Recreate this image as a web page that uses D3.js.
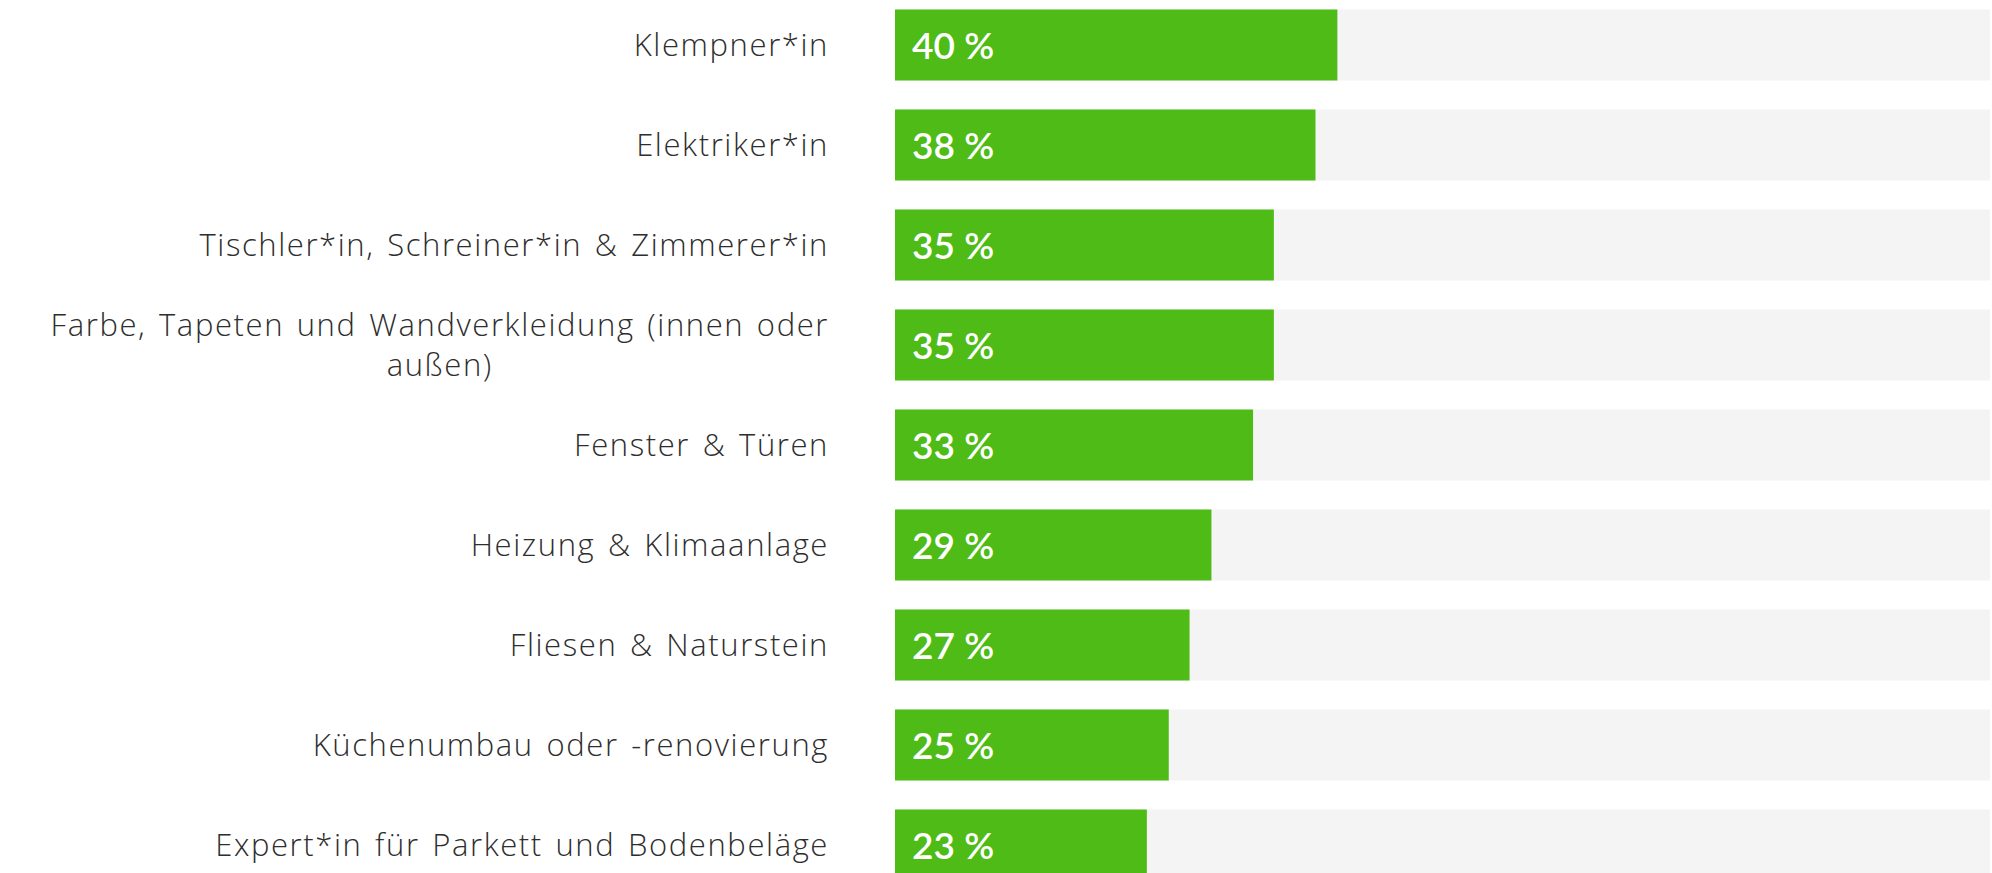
<!DOCTYPE html>
<html>
<head>
<meta charset="utf-8">
<script src="https://cdn.jsdelivr.net/npm/d3@7"></script>
<style>
  html, body { margin: 0; padding: 0; background: #ffffff; }
  svg { display: block; }
</style>
</head>
<body>
<div id="chart"></div>
<script>
// categories, top to bottom
const categories = [
  "Klempner*in",
  "Elektriker*in",
  "Tischler*in, Schreiner*in & Zimmerer*in",
  "Farbe, Tapeten und Wandverkleidung (innen oder außen)",
  "Fenster & Türen",
  "Heizung & Klimaanlage",
  "Fliesen & Naturstein",
  "Küchenumbau oder -renovierung",
  "Expert*in für Parkett und Bodenbeläge"
];
// bar lengths (percent)
const values = [40.4, 38.4, 34.6, 34.6, 32.7, 28.9, 26.9, 25.0, 23.0];
// printed value labels
const valueLabels = ["40 %", "38 %", "35 %", "35 %", "33 %", "29 %", "27 %", "25 %", "23 %"];

const W = 1992, H = 873;
const green = "#4ebb17", track = "#f4f4f4";

const svg = d3.select("#chart")
  .append("svg")
    .attr("width", W)
    .attr("height", H);

// scales
const x = d3.scaleLinear()
  .domain([0, 100])
  .range([895, 1990]);

const y = d3.scaleBand()
  .domain(categories)
  .range([9.5, 880.5])
  .paddingInner(0.29)
  .paddingOuter(0);

const rows = svg.selectAll("g.row")
  .data(categories)
  .join("g")
    .attr("class", "row");

// grey track
rows.append("rect")
  .attr("x", x(0))
  .attr("y", d => y(d))
  .attr("width", x(100) - x(0))
  .attr("height", y.bandwidth())
  .attr("fill", track);

// green bar
rows.append("rect")
  .attr("x", x(0))
  .attr("y", d => y(d))
  .attr("width", (d, i) => x(values[i]) - x(0))
  .attr("height", y.bandwidth())
  .attr("fill", green);

// value labels inside bars
rows.append("text")
  .attr("x", x(0) + 17)
  .attr("y", d => y(d) + y.bandwidth() / 2 + 14)
  .text((d, i) => valueLabels[i])
  .style("font-family", "Lato, 'Open Sans', sans-serif")
  .style("font-weight", 600)
  .style("font-size", "37px")
  .attr("fill", "#ffffff");

// category labels, wrapped, block right aligned, lines centred
const labelRight = 829, maxWidth = 815, lineH = 40;
rows.append("text")
  .attr("class", "cat")
  .style("font-family", "'Open Sans', Lato, sans-serif")
  .style("font-weight", 300)
  .style("font-size", "31px")
  .style("letter-spacing", "1.6px")
  .style("word-spacing", "3px")
  .attr("fill", "#2e2e2e")
  .each(function(d) {
    const t = d3.select(this);
    const words = d.split(" ");
    const lines = [];
    let line = [];
    const probe = t.append("tspan");
    words.forEach(w => {
      line.push(w);
      probe.text(line.join(" "));
      if (probe.node().getComputedTextLength() > maxWidth && line.length > 1) {
        line.pop();
        lines.push(line.join(" "));
        line = [w];
      }
    });
    lines.push(line.join(" "));
    probe.remove();

    // widths of each line
    const widths = lines.map(l => {
      const s = t.append("tspan").text(l);
      const w = s.node().getComputedTextLength();
      s.remove();
      return w;
    });
    const blockW = d3.max(widths);
    const cx = labelRight - blockW / 2;
    const mid = y(d) + y.bandwidth() / 2;
    const first = mid + 11 - (lines.length - 1) * lineH / 2;
    lines.forEach((l, k) => {
      t.append("tspan")
        .attr("x", cx)
        .attr("y", first + k * lineH)
        .attr("text-anchor", "middle")
        .text(l);
    });
  });
</script>
</body>
</html>
